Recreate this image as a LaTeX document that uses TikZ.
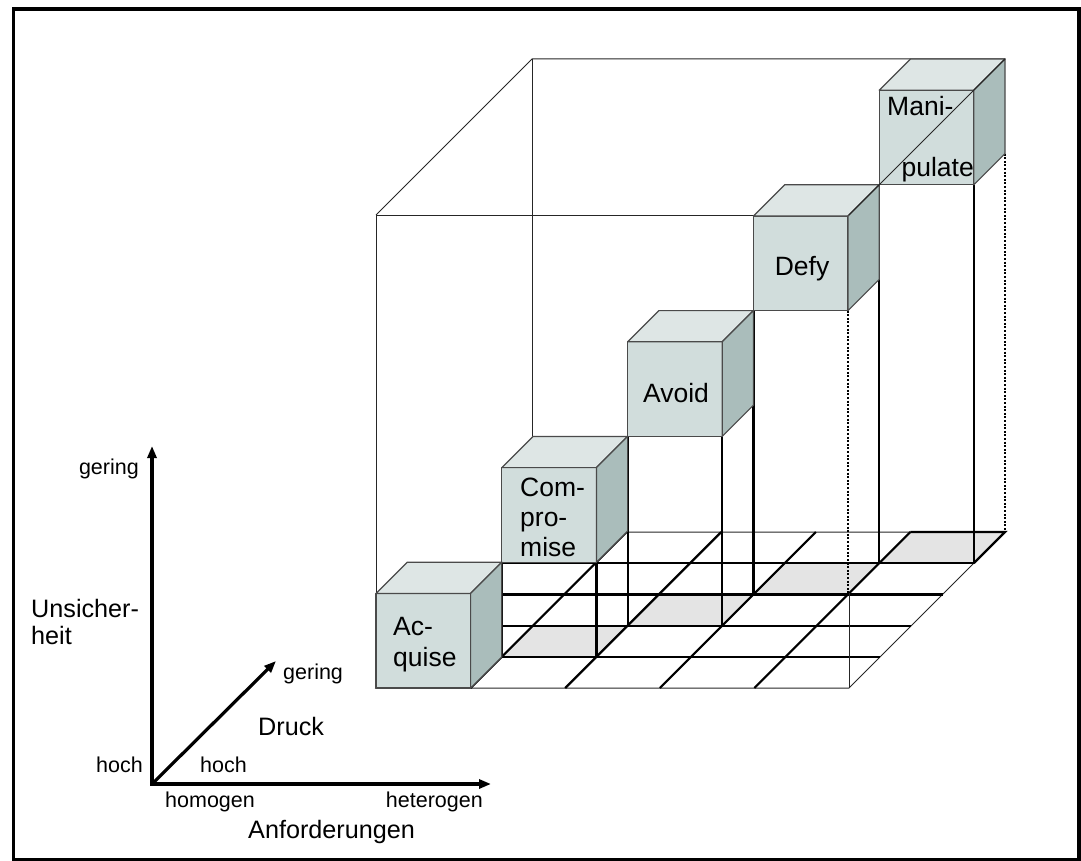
\documentclass[tikz,border=0pt]{standalone}
\usepackage{fontspec}
\setmainfont{Liberation Sans}
\usetikzlibrary{arrows.meta}
\definecolor{cubefront}{HTML}{D1DDDC}
\definecolor{cubetop}{HTML}{DEE6E5}
\definecolor{cubeside}{HTML}{AABDBB}
\definecolor{cubeedge}{HTML}{4A4A4A}
\definecolor{floorshade}{HTML}{E4E4E4}

\begin{document}
\begin{tikzpicture}[x=1pt,y=-1pt,
  thinline/.style={line width=1pt, draw=black!85},
  gridline/.style={line width=2.2pt, draw=black},
  hiddenline/.style={line width=1.6pt, draw=black, dash pattern=on 2pt off 1.6pt},
  facestyle/.style={draw=cubeedge, line width=1.2pt, line join=round},
  axisline/.style={line width=3.2pt, draw=black},
  smalllabel/.style={font=\fontsize{21.5}{24}\selectfont, inner sep=0pt},
  biglabel/.style={font=\fontsize{25.2}{27}\selectfont, inner sep=0pt},
  cubelabel/.style={font=\fontsize{26.5}{29.7}\selectfont, inner sep=0pt}]
\useasboundingbox (0,0) rectangle (1081,861);
\draw[line width=3.5pt] (13.5,9) rectangle (1079,860);

% 5x5x5 space: (i, height, depth)
\begin{scope}[shift={(376pt,-688pt)}, x={(94.6pt,0pt)}, y={(0pt,94.6pt)}, z={(31.2pt,31.2pt)}]
  % shaded floor cells below the raised cubes
  \foreach \n in {1,...,4}
    \fill[floorshade] (\n,0,\n) -- (\n+1,0,\n) -- (\n+1,0,\n+1) -- (\n,0,\n+1) -- cycle;
  % floor outline and grid
  \draw[thinline] (0,0,0) -- (5,0,0) -- (5,0,5) -- (0,0,5) -- cycle;
  \foreach \i in {1,...,4} {
    \draw[gridline] (\i,0,0) -- (\i,0,5);
    \draw[gridline] (0,0,\i) -- (5,0,\i);
  }
  \draw[gridline] (4,0,5) -- (5,0,5) -- (5,0,4);
  % outer box edges
  \draw[thinline] (0,0,0) -- (0,5,0) -- (5,5,0);
  \draw[thinline] (0,5,0) -- (0,5,5) -- (5,5,5);
  \draw[thinline] (0,0,5) -- (0,5,5);
  \draw[thinline] (5,0,0) -- (5,1,0);
  % pillars below the raised cubes
  \foreach \n in {1,...,4}
    \draw[gridline] (\n,\n,\n) -- (\n,0,\n);
  \draw[gridline] (2,1,1) -- (2,0,1);
  \draw[gridline] (3,2,2) -- (3,0,2);
  \draw[hiddenline] (4,3,3) -- (4,0,3);
  \draw[gridline] (5,4,4) -- (5,0,4);
  \draw[gridline] (2,1,2) -- (2,0,2);
  \draw[gridline] (3,2,3) -- (3,0,3);
  \draw[gridline] (4,3,4) -- (4,0,4);
  \draw[hiddenline] (5,4,5) -- (5,0,5);
  % the five cubes, back to front
  \foreach \n in {4,3,2,1,0} {
    \filldraw[facestyle, fill=cubefront] (\n,\n,\n) -- (\n+1,\n,\n) -- (\n+1,\n+1,\n) -- (\n,\n+1,\n) -- cycle;
    \filldraw[facestyle, fill=cubetop] (\n,\n+1,\n) -- (\n+1,\n+1,\n) -- (\n+1,\n+1,\n+1) -- (\n,\n+1,\n+1) -- cycle;
    \filldraw[facestyle, fill=cubeside] (\n+1,\n,\n) -- (\n+1,\n,\n+1) -- (\n+1,\n+1,\n+1) -- (\n+1,\n+1,\n) -- cycle;
  }
  % top right edge of the outer box
  \draw[thinline] (5,5,0) -- (5,5,5);
\end{scope}

% cube labels (base anchor of a multi-line node sits on its last line)
\node[cubelabel, font=\fontsize{26.5}{31}\selectfont, align=left, anchor=base west] (acq) at (393,666) {Ac-\\quise};
\node[cubelabel, align=left, anchor=base west] (comp) at (520,556) {Com-\\pro-\\mise};
\node[cubelabel, anchor=base] (avoid) at (676,402) {Avoid};
\node[cubelabel, anchor=base] (defy) at (802,275) {Defy};
\node[cubelabel, anchor=base west] (manitop) at (887,116) {Mani-};
\node[cubelabel, anchor=base east] (manibot) at (974,177) {pulate};

% axes
\coordinate (orig) at (152,784);
\coordinate (vtip) at (152,446);
\coordinate (htip) at (491,784);
\coordinate (dtip) at (276,661);
\draw[axisline, {Triangle[length=12pt,width=9pt]}-{Triangle[length=12pt,width=9pt]}] (vtip) -- (orig) -- (htip);
\draw[axisline, -{Triangle[length=12pt,width=9pt]}] (orig) -- (dtip);

% axis labels
\node[smalllabel, anchor=base east] (ugering) at (139,474) {gering};
\node[biglabel, align=left, anchor=base west] (unsich) at (31,644) {Unsicher-\\heit};
\node[smalllabel, anchor=base east] (uhoch) at (143,772) {hoch};
\node[smalllabel, anchor=base west] (dgering) at (283,679) {gering};
\node[biglabel, anchor=base west] (druck) at (258,735) {Druck};
\node[smalllabel, anchor=base west] (dhoch) at (200,772) {hoch};
\node[smalllabel, anchor=base west] (homog) at (165,807) {homogen};
\node[smalllabel, anchor=base east] (heterog) at (483,807) {heterogen};
\node[biglabel, anchor=base west] (anford) at (248,838) {Anforderungen};
\end{tikzpicture}
\end{document}
